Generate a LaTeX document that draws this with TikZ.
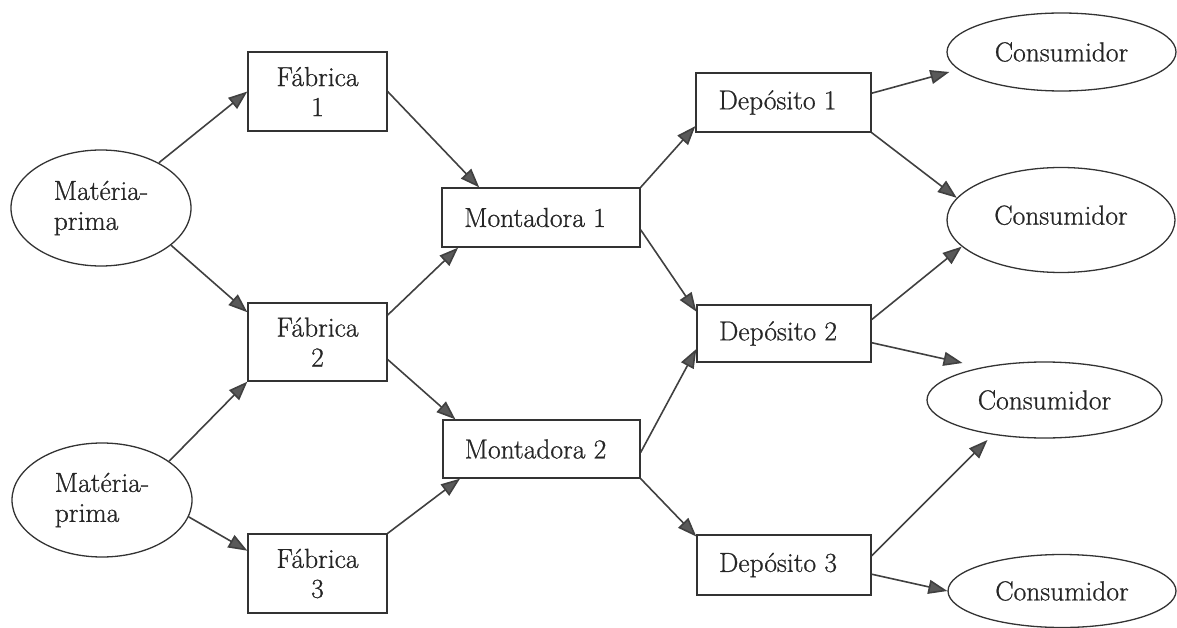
\documentclass[tikz,border=0pt]{standalone}
\usepackage{fontspec}
\newfontfamily\diagfont{Latin Modern Roman}[FakeBold=0.8]
\usetikzlibrary{shapes.geometric,arrows.meta,calc}

\begin{document}
\begin{tikzpicture}[x=1pt,y=-1pt,
  lbl/.style={font=\diagfont\fontsize{27.5}{30}\selectfont, text=black!85},
  box/.style={lbl, draw=black!80, line width=1.3pt, rectangle, inner sep=0pt, align=center},
  oval/.style={lbl, draw=black!80, line width=1.3pt, ellipse, inner sep=0pt, align=left},
  link/.style={draw=black!75, line width=1.6pt, -{Triangle[length=19pt,width=14pt,fill=black!65]}}]

\useasboundingbox (0,0) rectangle (1177,628);

% raw material sources
\node[oval, minimum width=180pt, minimum height=116pt] (mp1) at (101,208) {Matéria-\\prima};
\node[oval, minimum width=180pt, minimum height=114pt] (mp2) at (102,500) {Matéria-\\prima};

% factories
\node[box, minimum width=139pt, minimum height=79pt] (f1) at (317.5,91.5) {Fábrica\\1};
\node[box, minimum width=139pt, minimum height=78pt] (f2) at (317.5,342) {Fábrica\\2};
\node[box, minimum width=139pt, minimum height=79pt] (f3) at (317.5,573.5) {Fábrica\\3};

% assembly plants
\node[box, minimum width=198pt, minimum height=59pt] (m1) at (541,217.5) {Montadora 1\hspace{12pt}};
\node[box, minimum width=197pt, minimum height=58pt] (m2) at (541.5,449) {Montadora 2\hspace{12pt}};

% warehouses
\node[box, minimum width=175pt, minimum height=59pt] (d1) at (783.5,102.5) {Depósito 1\hspace{12pt}};
\node[box, minimum width=174pt, minimum height=57pt] (d2) at (784,333.5) {Depósito 2\hspace{12pt}};
\node[box, minimum width=174pt, minimum height=60pt] (d3) at (784,565) {Depósito 3\hspace{12pt}};

% consumers
\node[oval, minimum width=229pt, minimum height=78pt] (c1) at (1061.5,52) {Consumidor};
\node[oval, minimum width=228pt, minimum height=105pt] (c2) at (1061,220) {\raisebox{10pt}{Consumidor}};
\node[oval, minimum width=235pt, minimum height=76pt] (c3) at (1044.5,400) {Consumidor};
\node[oval, minimum width=228pt, minimum height=73pt] (c4) at (1062,591) {Consumidor};

% raw material -> factories
\draw[link] (mp1.38) -- (f1.west);
\draw[link] (mp1.-28) -- (f2.157.4);
\draw[link] (mp2.30.5) -- (f2.south west);
\draw[link] (mp2.-11) -- (f3.162.8);

% factories -> assembly plants
\draw[link] (f1.east) -- (m1.154.2);
\draw[link] (f2.21.2) -- (m1.200.5);
\draw[link] (f2.-14.5) -- (m2.161.8);
\draw[link] (f3.north east) -- (m2.200);

% assembly plants -> warehouses
\draw[link] (m1.north east) -- (d1.195.6);
\draw[link] (m1.-7.2) -- (d2.166.7);
\draw[link] (m2.-2) -- (d2.190.7);
\draw[link] (m2.south east) -- (d3.162);

% warehouses -> consumers
\draw[link] (d1.6.8) -- ($(c1.west)+(3,20)$);
\draw[link] (d1.south east) -- (c2.168.5);
\draw[link] (d2.9.5) -- (c2.195.7);
\draw[link] (d2.-6.2) -- ($(c3)+(-82,-37)$);
\draw[link] (d3.6.6) -- ($(c3)+(-57,40)$);
\draw[link] (d3.-6.6) -- (c4.west);
\end{tikzpicture}
\end{document}
